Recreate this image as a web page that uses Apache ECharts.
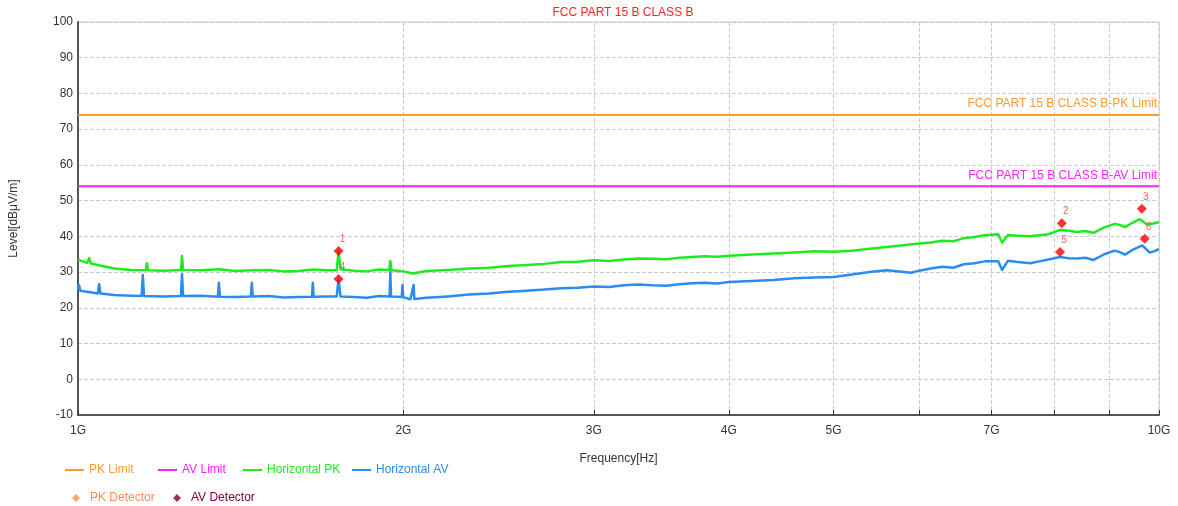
<!DOCTYPE html>
<html>
<head>
<meta charset="utf-8">
<script src="https://cdn.jsdelivr.net/npm/echarts@6/dist/echarts.min.js"></script>
<style>html,body{margin:0;padding:0;background:#fff;}#c{width:1178px;height:506px;}</style>
</head>
<body>
<div id="c"></div>
<script>
// ---- data (frequency in GHz, level in dBμV/m) ----
const chartTitle = 'FCC PART 15 B CLASS B';
const xTickValues = [1, 2, 3, 4, 5, 6, 7, 8, 9, 10];
const xLabelValues = [1, 2, 3, 4, 5, 7, 10];
const pkLimit = 74;
const avLimit = 54;
const pkLimitLabel = 'FCC PART 15 B CLASS B-PK Limit';
const avLimitLabel = 'FCC PART 15 B CLASS B-AV Limit';

const pkFreq = [1.000,1.010,1.020,1.024,1.028,1.050,1.080,1.120,1.155,1.158,1.161,1.200,1.245,1.248,1.251,1.300,1.350,1.400,1.450,1.500,1.550,1.600,1.650,1.700,1.735,1.742,1.749,1.800,1.850,1.900,1.940,1.945,1.950,2.000,2.040,2.100,2.200,2.300,2.400,2.500,2.600,2.700,2.800,2.900,3.000,3.100,3.200,3.300,3.400,3.500,3.600,3.700,3.800,3.900,4.000,4.200,4.400,4.600,4.800,5.000,5.200,5.400,5.600,5.800,6.000,6.150,6.300,6.450,6.600,6.750,6.900,7.100,7.160,7.250,7.400,7.600,7.750,7.900,8.100,8.250,8.400,8.550,8.700,8.900,9.100,9.200,9.300,9.450,9.600,9.750,9.880,10.00];
const pkLevel = [33.5,33.0,32.6,33.9,32.4,31.8,31.0,30.6,30.5,32.5,30.5,30.4,30.6,34.5,30.6,30.5,30.8,30.3,30.5,30.6,30.2,30.3,30.7,30.5,30.5,35.9,30.8,30.4,30.2,30.7,30.6,33.1,30.5,30.2,29.6,30.3,30.6,31.0,31.2,31.7,32.0,32.3,32.8,32.9,33.3,33.1,33.5,33.8,33.7,33.6,34.0,34.2,34.4,34.3,34.6,34.9,35.2,35.5,35.8,35.7,36.0,36.5,37.0,37.5,38.0,38.3,38.8,38.6,39.5,39.8,40.3,40.6,38.3,40.4,40.2,40.0,40.3,40.6,41.8,41.6,41.2,41.5,41.0,42.5,43.5,43.2,42.6,43.8,44.8,43.3,43.6,44.0];

const avFreq = [1.000,1.002,1.005,1.030,1.043,1.046,1.049,1.080,1.120,1.145,1.148,1.151,1.200,1.245,1.248,1.251,1.300,1.347,1.350,1.353,1.400,1.445,1.448,1.451,1.500,1.550,1.600,1.646,1.649,1.652,1.700,1.735,1.742,1.749,1.800,1.850,1.900,1.942,1.945,1.948,1.993,1.996,1.999,2.030,2.044,2.047,2.100,2.200,2.300,2.400,2.500,2.600,2.700,2.800,2.900,3.000,3.100,3.200,3.300,3.400,3.500,3.600,3.700,3.800,3.900,4.000,4.200,4.400,4.600,4.800,5.000,5.200,5.400,5.600,5.900,6.000,6.150,6.300,6.450,6.600,6.750,6.900,7.100,7.160,7.250,7.400,7.600,7.750,7.900,8.100,8.250,8.400,8.550,8.700,8.900,9.100,9.200,9.300,9.450,9.650,9.800,9.900,10.00];
const avLevel = [25.0,26.4,24.8,24.3,24.0,26.6,24.0,23.6,23.4,23.3,29.2,23.3,23.2,23.3,29.4,23.3,23.4,23.1,27.0,23.1,23.0,23.2,27.0,23.2,23.3,22.9,23.0,23.1,27.0,23.1,23.2,23.2,28.1,23.2,23.0,22.8,23.3,23.2,30.0,23.2,23.0,26.4,23.0,22.4,26.4,22.5,22.8,23.2,23.7,24.0,24.5,24.8,25.1,25.5,25.6,26.0,25.8,26.3,26.5,26.3,26.2,26.6,26.9,27.0,26.8,27.2,27.5,27.8,28.3,28.5,28.6,29.3,30.0,30.5,29.8,30.4,31.0,31.5,31.2,32.2,32.5,33.0,33.0,30.6,33.2,32.8,32.5,33.0,33.5,34.2,33.9,33.8,34.0,33.4,35.0,36.0,35.6,34.9,36.2,37.5,35.5,35.8,36.5];

const pkMarkFreq = [1.742, 8.13, 9.64];
const pkMarkLevel = [35.9, 43.7, 47.7];
const pkMarkNo = ['1', '2', '3'];
const avMarkFreq = [1.742, 8.10, 9.70];
const avMarkLevel = [28.1, 35.6, 39.3];
const avMarkNo = ['4', '5', '6'];

// ---- chart ----
const FONT = 'Liberation Sans, Arial, sans-serif';
const C_PKL = '#FF9933', C_AVL = '#FF22FF', C_PK = '#1EEB1E', C_AV = '#2B8CF0', C_PKD = '#FF8C50', C_AVD = '#800040';
const zip = (a, b) => a.map((v, i) => [v, b[i]]);
const marks = (f, l, n) => f.map((v, i) => ({ value: [v, l[i], n[i]], itemStyle: { color: '#FF0000' } }));

function legendAt(name, left, top, color, diamond) {
  const o = { data: [name], left: left, top: top, padding: 0, icon: 'rect', itemWidth: 19, itemHeight: 2, itemGap: 6,
    textStyle: { color: color, fontSize: 12, fontFamily: FONT }, selectedMode: false };
  if (diamond) {
    o.icon = 'diamond'; o.itemWidth = 8; o.itemHeight = 8;
    o.textStyle.padding = [0, 0, 0, 5];
  }
  return o;
}

const limitLabel = (txt, color, y) => ({
  silent: true, symbol: 'none', lineStyle: { color: 'rgba(0,0,0,0)', width: 1, type: 'solid' },
  label: { show: true, position: 'insideEndTop', formatter: txt, color: color, fontSize: 12, fontFamily: FONT, distance: [2, 5] },
  data: [{ yAxis: y }]
});

const chart = echarts.init(document.getElementById('c'));

chart.setOption({
  animation: false,
  backgroundColor: '#fff',
  title: { text: chartTitle, left: 618, textAlign: 'center', top: 2,
    textStyle: { color: '#FF2222', fontSize: 12, fontWeight: 'normal', fontFamily: FONT } },
  grid: { left: 77, right: 19, top: 22, bottom: 91, show: true, borderColor: '#ccc', borderWidth: 1 },
  legend: [
    legendAt('PK Limit', 65, 464, C_PKL),
    legendAt('AV Limit', 158, 464, C_AVL),
    legendAt('Horizontal PK', 243, 464, C_PK),
    legendAt('Horizontal AV', 352, 464, C_AV),
    legendAt('PK Detector', 72, 492, C_PKD, true),
    legendAt('AV Detector', 173, 492, C_AVD, true)
  ],
  xAxis: {
    type: 'log', logBase: 10, min: 1, max: 10,
    name: 'Frequency[Hz]', nameLocation: 'middle', nameGap: 38,
    nameTextStyle: { color: '#333', fontSize: 12, fontFamily: FONT },
    axisLine: { show: true, onZero: false, lineStyle: { color: '#555', width: 2 } },
    axisTick: { show: true, inside: true, length: 5, customValues: xTickValues, lineStyle: { color: '#333' } },
    axisLabel: { customValues: xLabelValues, formatter: v => Math.round(v) + 'G', color: '#333', fontSize: 12, fontFamily: FONT, margin: 10, showMaxLabel: true, showMinLabel: true },
    splitLine: { show: true, lineStyle: { color: '#ccc', type: 'dashed' } }
  },
  yAxis: {
    type: 'value', min: -10, max: 100, interval: 10,
    name: 'Level[dBμV/m]', nameLocation: 'middle', nameGap: 58,
    nameTextStyle: { color: '#333', fontSize: 12, fontFamily: FONT },
    axisLine: { show: true, onZero: false, lineStyle: { color: '#555', width: 2 } },
    axisTick: { show: false },
    axisLabel: { color: '#333', fontSize: 12, fontFamily: FONT, margin: 5 },
    splitLine: { show: true, lineStyle: { color: '#ccc', type: 'dashed' } }
  },
  series: [
    { name: 'PK Limit', type: 'line', symbol: 'none', color: C_PKL, lineStyle: { width: 2, color: C_PKL },
      data: [[1, pkLimit], [10, pkLimit]], markLine: limitLabel(pkLimitLabel, C_PKL, pkLimit), z: 3 },
    { name: 'AV Limit', type: 'line', symbol: 'none', color: C_AVL, lineStyle: { width: 2, color: C_AVL },
      data: [[1, avLimit], [10, avLimit]], markLine: limitLabel(avLimitLabel, C_AVL, avLimit), z: 3 },
    { name: 'Horizontal PK', type: 'line', symbol: 'none', color: C_PK, lineStyle: { width: 2.5, color: C_PK, join: 'round' },
      data: zip(pkFreq, pkLevel), z: 4 },
    { name: 'Horizontal AV', type: 'line', symbol: 'none', color: C_AV, lineStyle: { width: 2.5, color: C_AV, join: 'round' },
      data: zip(avFreq, avLevel), z: 4 },
    { name: 'PK Detector', type: 'scatter', symbol: 'diamond', symbolSize: 10, itemStyle: { color: C_PKD },
      data: marks(pkMarkFreq, pkMarkLevel, pkMarkNo), z: 6,
      label: { show: true, position: 'top', offset: [4, 0], distance: 2, formatter: p => p.value[2], color: '#FF3333', fontSize: 10, fontFamily: FONT } },
    { name: 'AV Detector', type: 'scatter', symbol: 'diamond', symbolSize: 10, itemStyle: { color: C_AVD },
      data: marks(avMarkFreq, avMarkLevel, avMarkNo), z: 6,
      label: { show: true, position: 'top', offset: [4, 0], distance: 2, formatter: p => p.value[2], color: '#FF3333', fontSize: 10, fontFamily: FONT } }
  ]
});
</script>
</body>
</html>
